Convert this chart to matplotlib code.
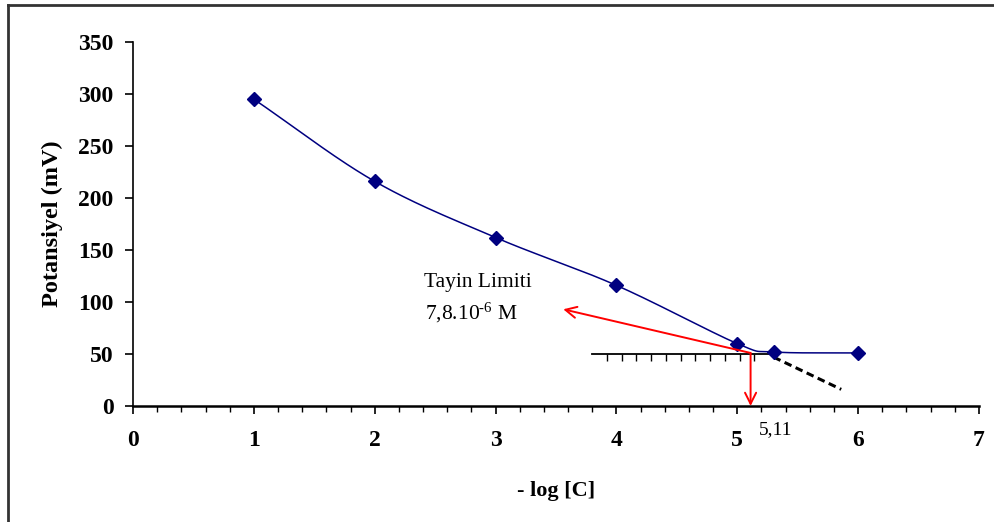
import numpy as np
import matplotlib
matplotlib.use("Agg")
import matplotlib.pyplot as plt
from matplotlib.lines import Line2D
from matplotlib.ticker import MultipleLocator

# Calibration data: -log[C] versus measured potential
log_c = [1, 2, 3, 4, 5, 5.3, 6]
potential = [295, 216, 162, 116, 60, 52, 51]

# Detection limit construction
limit_x = 5.11
limit_label = "5,11"
limit_conc = r"7,8.10$^{\text{-6}}$ M"
baseline_x = [3.8, 5.26]
baseline_y = 50
extrap_x = [5.30, 5.86]
extrap_y = [47, 16]
pointer_end = (3.56, 93)
pointer_start_y = 51

x_ticks = list(range(0, 8))
y_ticks = list(range(0, 351, 50))

serif = ["Liberation Serif", "DejaVu Serif"]
plt.rcParams["font.family"] = serif
plt.rcParams["mathtext.fontset"] = "custom"
plt.rcParams["mathtext.rm"] = "Liberation Serif"
plt.rcParams["mathtext.it"] = "Liberation Serif:italic"
plt.rcParams["mathtext.bf"] = "Liberation Serif:bold"

navy = "#000080"
red = "#ff0000"


def catmull_rom(xs, ys, n=40):
    """Smooth curve through the points (Catmull-Rom spline)."""
    pts = np.column_stack([xs, ys]).astype(float)
    sc = np.array([1.0, 1 / 60.0])
    p = pts * sc
    p = np.vstack([2 * p[0] - p[1], p, 2 * p[-1] - p[-2]])
    out = []
    for i in range(1, len(p) - 2):
        p0, p1, p2, p3 = p[i - 1], p[i], p[i + 1], p[i + 2]
        t = np.linspace(0, 1, n)[:, None]
        seg = 0.5 * ((2 * p1) + (-p0 + p2) * t
                     + (2 * p0 - 5 * p1 + 4 * p2 - p3) * t ** 2
                     + (-p0 + 3 * p1 - 3 * p2 + p3) * t ** 3)
        out.append(seg)
    c = np.vstack(out) / sc
    return c[:, 0], c[:, 1]


fig = plt.figure(figsize=(9.95, 5.22), dpi=100)
ax = fig.add_axes([133 / 995, (522 - 406) / 522, (979 - 133) / 995, (406 - 42) / 522])

# smoothed calibration curve and its points
sx, sy = catmull_rom(log_c, potential)
ax.plot(sx, sy, color=navy, lw=1.1, zorder=4)
ax.plot(log_c, potential, linestyle="none", marker="D", ms=7,
        color=navy, zorder=5)

# horizontal baseline with tick marks
bx = np.arange(baseline_x[0], baseline_x[1] + 1e-9, 0.122)
ax.plot(baseline_x, [baseline_y, baseline_y], color="black", lw=1.3, zorder=3)
ax.plot(bx[1:], [baseline_y] * len(bx[1:]), linestyle="none",
        marker=3, ms=5, mew=1.0, color="black", zorder=3)

# extrapolated linear region
ax.plot(extrap_x, extrap_y, color="black", lw=2.2, ls=(0, (2.5, 1.5)), zorder=3)

# red pointers to the detection limit
ax.annotate("", xy=pointer_end, xytext=(limit_x, pointer_start_y),
            arrowprops=dict(arrowstyle="->", color=red, lw=1.4,
                            mutation_scale=20, shrinkA=0, shrinkB=0), zorder=6)
ax.annotate("", xy=(limit_x, 0), xytext=(limit_x, pointer_start_y),
            arrowprops=dict(arrowstyle="->", color=red, lw=1.4,
                            mutation_scale=20, shrinkA=0, shrinkB=0), zorder=6)

ax.text(limit_x + 0.21, -23, limit_label, ha="center", va="center",
        fontsize=14, clip_on=False)
ax.text(2.85, 119, "Tayin Limiti", ha="center", va="center", fontsize=15.5)
ax.text(2.80, 89, limit_conc, ha="center", va="center", fontsize=15.5)

ax.set_xlim(0, 7)
ax.set_ylim(0, 350)
ax.set_xticks(x_ticks)
ax.set_yticks(y_ticks)
ax.xaxis.set_minor_locator(MultipleLocator(0.2))
ax.tick_params(axis="both", which="major", direction="out", length=6,
               width=1.2, labelsize=17)
ax.tick_params(axis="x", which="major", pad=11)
ax.tick_params(axis="y", which="major", pad=8)
ax.tick_params(axis="x", which="minor", direction="out", length=4, width=1.0)
for lab in ax.get_xticklabels() + ax.get_yticklabels():
    lab.set_fontweight("bold")
ax.spines["top"].set_visible(False)
ax.spines["right"].set_visible(False)
ax.spines["left"].set_linewidth(1.2)
ax.spines["bottom"].set_linewidth(1.8)

ax.set_xlabel("- log [C]", fontsize=16, fontweight="bold", labelpad=22)
ax.set_ylabel("Potansiyel (mV)", fontsize=17.5, fontweight="bold", labelpad=11)

# outer frame (top and left edges)
fig.add_artist(Line2D([8 / 995, 1], [1 - 5 / 522, 1 - 5 / 522],
                      transform=fig.transFigure, color="#333333", lw=2))
fig.add_artist(Line2D([8 / 995, 8 / 995], [0, 1 - 5 / 522],
                      transform=fig.transFigure, color="#333333", lw=2))

fig.savefig("out.png", dpi=100)
